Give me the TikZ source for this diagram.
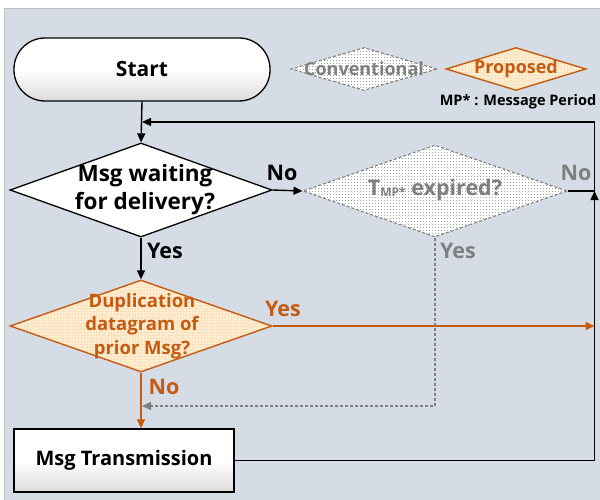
\documentclass[tikz,border=0pt]{standalone}
\usepackage{fontspec}
\setmainfont{Open Sans}
\usetikzlibrary{shapes.geometric,arrows.meta}
\definecolor{bgc}{HTML}{D6DCE5}
\definecolor{orc}{HTML}{C55A11}
\definecolor{grc}{HTML}{7F7F7F}
\definecolor{prfill}{HTML}{FFF2CC}
\definecolor{prgrid}{HTML}{FAE1C6}
\tikzset{
  x=1pt, y=-1pt,
  tip/.style={-{Triangle[length=9pt,width=8pt]}},
  blk/.style={draw=black, line width=1.4pt},
  orl/.style={draw=orc, line width=1.4pt},
  grl/.style={draw=grc, line width=1.1pt, dash pattern=on 3pt off 2pt},
  term/.style={draw=black, line width=1.3pt, top color=white, bottom color=black!14, middle color=white, inner sep=0pt},
  dotfill/.style={path picture={
    \foreach \k in {-17,...,17}
      \draw[black!38, line width=0.8pt, dash pattern=on 0.8pt off 2.2pt]
        ([yshift=\k*3pt]path picture bounding box.west) -- ([yshift=\k*3pt]path picture bounding box.east);}},
  gridfill/.style={path picture={
    \foreach \k in {-17,...,17}
      \draw[prgrid, line width=0.35pt]
        ([yshift=\k*3pt]path picture bounding box.west) -- ([yshift=\k*3pt]path picture bounding box.east);
    \foreach \k in {-46,...,46}
      \draw[prgrid, line width=0.35pt]
        ([xshift=\k*3pt]path picture bounding box.north) -- ([xshift=\k*3pt]path picture bounding box.south);}},
  convdia/.style={diamond, draw=grc, line width=1.1pt, dash pattern=on 3pt off 2pt, fill=white, dotfill, inner sep=0pt},
  propdia/.style={diamond, draw=orc, line width=1.4pt, fill=prfill, gridfill, inner sep=0pt},
  plaindia/.style={diamond, draw=black, line width=1.3pt, fill=white, inner sep=0pt},
  lab/.style={font=\bfseries\fontsize{21.5}{24}\selectfont, inner sep=0pt},
}
\begin{document}
\begin{tikzpicture}
\useasboundingbox (0,0) rectangle (600,500);
\fill[white] (0,0) rectangle (600,500);
\draw[fill=bgc, draw=black!25, line width=0.8pt] (4,8) rectangle (601,501);

% Helper coordinates
\coordinate (R) at (594.5,0);
\coordinate (top) at (142,122);
\coordinate (dm) at (142,406);
\coordinate (rb) at (594.5,460.5);
\coordinate (rm) at (594.5,191);
\coordinate (ro) at (594.5,326);

% Legend
\node[convdia, minimum width=146pt, minimum height=43pt] (lc) at (364,69) {};
\node[font=\bfseries\fontsize{18}{20}\selectfont, text=grc, inner sep=0pt] (lct) at (lc) {Conventional};
\node[propdia, minimum width=140pt, minimum height=43pt] (lp) at (516,69) {};
\node[font=\bfseries\fontsize{18}{20}\selectfont, text=orc, inner sep=0pt] (lpt) at (lp) {Proposed};
\node[font=\bfseries\fontsize{14.5}{16}\selectfont, inner sep=0pt] (mp) at (518,102) {MP* : Message Period};

% Start
\node[term, rounded corners=31pt, minimum width=256pt, minimum height=63pt, font=\bfseries\fontsize{21}{24}\selectfont] (start) at (142,69.5) {Start};

% Decision 1
\node[plaindia, minimum width=262pt, minimum height=94pt] (d1) at (141,190) {};
\node[font=\bfseries\fontsize{22.5}{28}\selectfont, align=center, inner sep=0pt] (d1t) at (145,190) {Msg waiting\\for delivery?};

% Decision 2 (conventional)
\node[convdia, minimum width=264pt, minimum height=92pt] (d2) at (435,191) {};
\node[font=\bfseries\fontsize{21.5}{24}\selectfont, text=grc, inner sep=0pt] (d2t) at (435,190) {T\raisebox{-1pt}{\fontsize{12}{12}\selectfont MP*} expired?};

% Decision 3 (proposed)
\node[propdia, minimum width=262pt, minimum height=92pt] (d3) at (141,326) {};
\node[font=\bfseries\fontsize{18.5}{23.5}\selectfont, text=orc, align=center, inner sep=0pt] (d3t) at (142,326) {Duplication\\datagram of\\prior Msg?};

% Transmission
\node[term, minimum width=220pt, minimum height=63pt, font=\bfseries\fontsize{20}{24}\selectfont] (tx) at (124,460.5) {Msg Transmission};

% Labels
\node[lab] (n1) at (282,173) {No};
\node[lab, text=grc] (n2) at (576,173) {No};
\node[lab, text=grc] (y2) at (458,251) {Yes};
\node[lab] (y1) at (165,251) {Yes};
\node[lab, text=orc] (y3) at (283,309) {Yes};
\node[lab, text=orc] (n3) at (164,387) {No};

% Connectors
\draw[orl, tip] (d3.east) -- (ro);
\draw[orl, tip] (d3.south) -- (tx.north -| d3.south);
\draw[grl, tip] (d2.south) -- (d2.south |- dm) -- (dm);
\draw[blk, tip] (start.south) -- (d1.north);
\draw[blk, tip] (d1.east) -- (d2.west);
\draw[blk, tip] (d1.south) -- (d3.north);
\draw[blk, tip] (d2.east) -- (rm) -- (R |- top) -- (top);
\draw[blk, tip] (tx.east) -- (rb) -- (rm);
\fill[black] (593.8,326) rectangle (595.2,461.2);
\end{tikzpicture}
\end{document}
